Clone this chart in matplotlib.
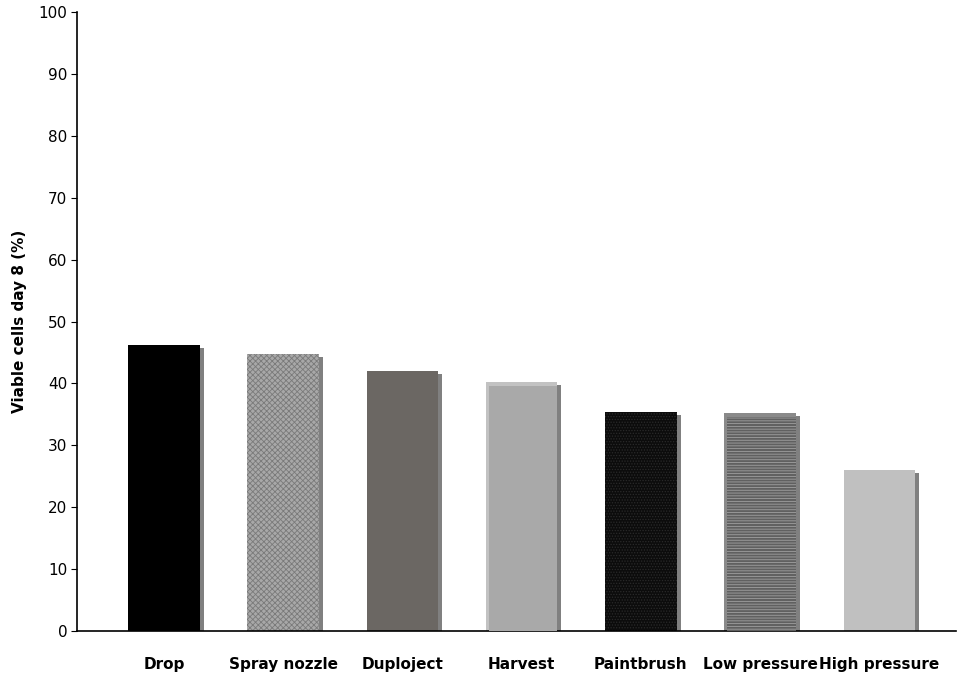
import matplotlib.pyplot as plt
import matplotlib.transforms as mtransforms

# Data
methods = ["Drop", "Spray nozzle", "Duploject", "Harvest", "Paintbrush",
           "Low pressure", "High pressure"]
viable_day8 = [46.2, 44.7, 42.0, 40.2, 35.4, 35.3, 26.0]

# Bar looks (face colour, hatch colour, hatch, rim colour)
face_colors = ["#000000", "#a8a8a8", "#6b6763", "#a9a9a9", "#0c0c0c", "#606060", "#c0c0c0"]
hatch_colors = ["#000000", "#7a7a7a", "#6b6763", "#a9a9a9", "#2a2a2a", "#a0a0a0", "#c0c0c0"]
hatches = [None, "xxxxxx", None, None, "......", "------", None]
rims = [None, None, None, "#c2c2c2", None, "#8a8a8a", None]

plt.rcParams["hatch.linewidth"] = 0.6

fig = plt.figure(figsize=(9.57, 6.78), dpi=100)
ax = fig.add_axes([0.0805, 0.0693, 0.918, 0.913])

x = list(range(len(methods)))
width = 0.6

shadow = mtransforms.offset_copy(ax.transData, fig=fig, x=4, y=-3, units="dots")
inset = mtransforms.offset_copy(ax.transData, fig=fig, x=0, y=-4, units="dots")

# shadow behind every bar
ax.bar(x, viable_day8, width=width, color="#808080", transform=shadow, zorder=1)

for i in x:
    if rims[i]:
        ax.bar(i, viable_day8[i], width=width, color=rims[i], zorder=2)
        ax.bar(i + 0.0125, viable_day8[i], width=width - 0.025, color=face_colors[i],
               edgecolor=hatch_colors[i], linewidth=0, hatch=hatches[i],
               transform=inset, zorder=3)
    else:
        ax.bar(i, viable_day8[i], width=width, color=face_colors[i],
               edgecolor=hatch_colors[i], linewidth=0, hatch=hatches[i], zorder=2)

ax.set_xlim(-0.73, 6.64)
ax.set_ylim(0, 100)
ax.set_yticks(range(0, 101, 10))
ax.set_xticks(x)
ax.set_xticklabels(methods, fontsize=11, fontweight="bold")
ax.tick_params(axis="x", length=0, pad=19)
ax.tick_params(axis="y", direction="out", length=4, labelsize=11, pad=3)
ax.set_ylabel("Viable cells day 8 (%)", fontsize=11, fontweight="bold", labelpad=8)

ax.spines["top"].set_visible(False)
ax.spines["right"].set_visible(False)
ax.spines["left"].set_linewidth(1.2)
ax.spines["bottom"].set_linewidth(1.2)

plt.savefig("out.png", dpi=100)
